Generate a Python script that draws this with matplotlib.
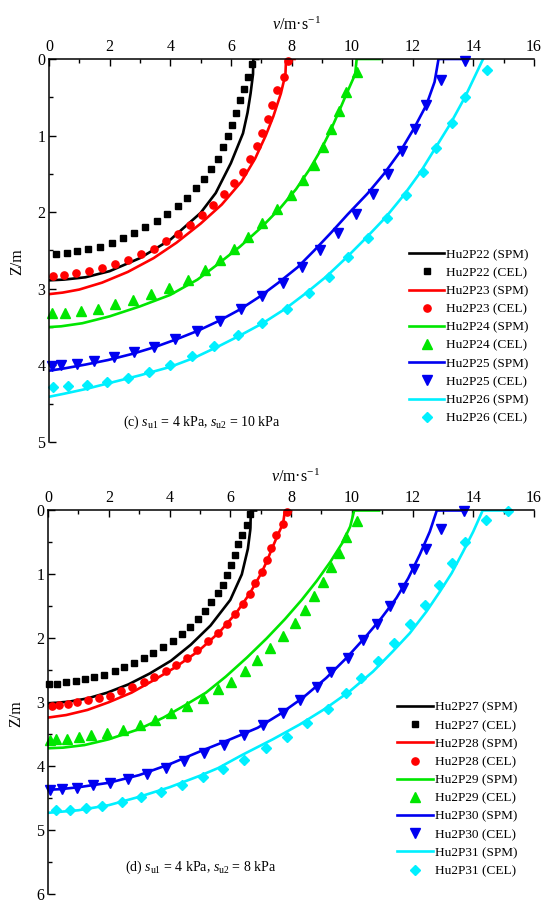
import numpy as np
import matplotlib
matplotlib.use("Agg")
import matplotlib.pyplot as plt

plt.rcParams['font.family'] = ['Liberation Serif', 'DejaVu Serif']
plt.rcParams['mathtext.fontset'] = 'custom'
plt.rcParams['mathtext.rm'] = 'Liberation Serif'
plt.rcParams['mathtext.it'] = 'Liberation Serif:italic'

# ---- panel (c): su1 = 4 kPa, su2 = 10 kPa ----
c22_spm_v = [6.90, 6.74, 6.73, 6.65, 6.55, 6.40, 6.00, 5.50, 5.00, 4.00, 3.00, 2.00, 1.20, 0.50, 0.00]
c22_spm_z = [0.00, 0.00, 0.20, 0.45, 0.70, 0.97, 1.36, 1.75, 2.01, 2.36, 2.60, 2.77, 2.85, 2.88, 2.89]
c22_cel_v = [6.70, 6.56, 6.42, 6.30, 6.18, 6.05, 5.91, 5.74, 5.57, 5.35, 5.10, 4.84, 4.55, 4.24, 3.90,
             3.56, 3.18, 2.81, 2.44, 2.07, 1.67, 1.30, 0.94, 0.60, 0.23]
c22_cel_z = [0.06, 0.23, 0.39, 0.54, 0.70, 0.86, 1.01, 1.15, 1.30, 1.43, 1.57, 1.69, 1.81, 1.92, 2.02,
             2.11, 2.20, 2.27, 2.34, 2.40, 2.45, 2.48, 2.51, 2.53, 2.55]

c23_spm_v = [8.10, 7.82, 7.80, 7.65, 7.40, 7.15, 6.80, 6.35, 5.70, 5.00, 4.20, 3.45, 2.60, 1.75, 1.00, 0.45, 0.00]
c23_spm_z = [0.00, 0.00, 0.20, 0.45, 0.75, 1.00, 1.30, 1.60, 1.90, 2.15, 2.40, 2.60, 2.78, 2.92, 3.01, 3.05, 3.07]
c23_cel_v = [7.88, 7.74, 7.53, 7.37, 7.22, 7.04, 6.85, 6.63, 6.39, 6.10, 5.77, 5.42, 5.05, 4.65, 4.25,
             3.85, 3.45, 3.04, 2.61, 2.17, 1.74, 1.32, 0.89, 0.51, 0.14]
c23_cel_z = [0.03, 0.23, 0.41, 0.60, 0.78, 0.97, 1.14, 1.31, 1.47, 1.62, 1.76, 1.91, 2.04, 2.17, 2.28,
             2.38, 2.48, 2.55, 2.62, 2.68, 2.73, 2.77, 2.80, 2.82, 2.83]

c24_spm_v = [10.92, 10.15, 10.10, 9.82, 9.55, 9.27, 8.95, 8.58, 8.15, 7.62, 7.00, 6.30, 5.50, 4.90, 4.00,
             3.00, 2.00, 1.10, 0.40, 0.00]
c24_spm_z = [0.00, 0.00, 0.20, 0.45, 0.70, 0.95, 1.20, 1.45, 1.70, 1.95, 2.20, 2.45, 2.70, 2.88, 3.08,
             3.23, 3.36, 3.45, 3.49, 3.50]
c24_cel_v = [10.15, 9.81, 9.56, 9.30, 9.03, 8.74, 8.38, 7.97, 7.51, 7.04, 6.56, 6.10, 5.64, 5.15, 4.59,
             3.95, 3.37, 2.76, 2.17, 1.60, 1.04, 0.52, 0.10]
c24_cel_z = [0.17, 0.43, 0.68, 0.92, 1.15, 1.38, 1.58, 1.77, 1.96, 2.14, 2.32, 2.48, 2.63, 2.76, 2.89,
             2.99, 3.07, 3.15, 3.20, 3.26, 3.29, 3.31, 3.32]

c25_spm_v = [13.75, 12.85, 12.72, 12.45, 12.05, 11.60, 11.05, 10.50, 9.85, 9.30, 8.75, 8.20, 7.57, 6.96,
             6.30, 5.60, 4.90, 4.20, 3.50, 2.75, 1.95, 1.20, 0.50, 0.00]
c25_spm_z = [0.00, 0.00, 0.30, 0.60, 0.90, 1.20, 1.50, 1.76, 2.03, 2.27, 2.50, 2.72, 2.92, 3.10,
             3.27, 3.42, 3.55, 3.66, 3.76, 3.85, 3.93, 3.99, 4.04, 4.07]
c25_cel_v = [13.71, 12.93, 12.44, 12.06, 11.65, 11.18, 10.68, 10.14, 9.52, 8.94, 8.36, 7.71, 7.04, 6.35,
             5.63, 4.89, 4.16, 3.45, 2.81, 2.14, 1.50, 0.92, 0.39, 0.10]
c25_cel_z = [0.02, 0.28, 0.60, 0.91, 1.20, 1.50, 1.76, 2.03, 2.27, 2.50, 2.72, 2.92, 3.10, 3.27,
             3.42, 3.55, 3.66, 3.76, 3.83, 3.89, 3.94, 3.98, 3.99, 4.01]

c26_spm_v = [14.32, 14.08, 13.72, 13.25, 12.75, 12.25, 11.70, 11.10, 10.45, 9.82, 9.15, 8.50, 7.80, 7.05,
             6.30, 5.60, 4.80, 4.00, 3.00, 2.00, 1.20, 0.50, 0.00]
c26_spm_z = [0.00, 0.20, 0.50, 0.84, 1.16, 1.48, 1.78, 2.07, 2.34, 2.59, 2.84, 3.05, 3.26, 3.45,
             3.61, 3.75, 3.90, 4.02, 4.13, 4.23, 4.31, 4.37, 4.41]
c26_cel_v = [14.45, 13.74, 13.28, 12.78, 12.33, 11.77, 11.15, 10.51, 9.88, 9.23, 8.59, 7.84, 7.04, 6.24,
             5.45, 4.73, 4.00, 3.29, 2.60, 1.91, 1.24, 0.64, 0.12]
c26_cel_z = [0.15, 0.50, 0.84, 1.16, 1.48, 1.78, 2.07, 2.34, 2.59, 2.84, 3.05, 3.26, 3.45, 3.61,
             3.75, 3.88, 3.99, 4.09, 4.16, 4.22, 4.25, 4.27, 4.28]

# ---- panel (d): su1 = 4 kPa, su2 = 8 kPa ----
d27_spm_v = [6.85, 6.68, 6.66, 6.58, 6.38, 6.00, 5.35, 4.70, 4.05, 3.35, 2.65, 1.95, 1.30, 0.70, 0.00]
d27_spm_z = [0.00, 0.00, 0.30, 0.60, 1.00, 1.40, 1.80, 2.10, 2.35, 2.55, 2.72, 2.85, 2.94, 2.99, 3.02]
d27_cel_v = [6.64, 6.55, 6.39, 6.27, 6.16, 6.04, 5.90, 5.76, 5.58, 5.37, 5.17, 4.94, 4.68, 4.40, 4.10,
             3.78, 3.47, 3.15, 2.84, 2.51, 2.19, 1.85, 1.53, 1.22, 0.91, 0.60, 0.28, 0.02]
d27_cel_z = [0.05, 0.22, 0.38, 0.53, 0.70, 0.86, 1.01, 1.16, 1.29, 1.43, 1.58, 1.70, 1.82, 1.93, 2.04,
             2.14, 2.23, 2.31, 2.39, 2.45, 2.51, 2.57, 2.61, 2.64, 2.67, 2.69, 2.71, 2.71]

d28_spm_v = [8.00, 7.80, 7.74, 7.55, 7.37, 7.20, 7.00, 6.64, 6.20, 5.65, 4.95, 4.20, 3.50, 2.75, 2.00,
             1.30, 0.60, 0.00]
d28_spm_z = [0.00, 0.00, 0.20, 0.40, 0.60, 0.80, 1.00, 1.30, 1.60, 1.90, 2.20, 2.45, 2.65, 2.85, 3.00,
             3.12, 3.20, 3.24]
d28_cel_v = [7.86, 7.72, 7.50, 7.35, 7.20, 7.03, 6.83, 6.64, 6.41, 6.16, 5.90, 5.58, 5.27, 4.92, 4.58,
             4.22, 3.87, 3.50, 3.15, 2.78, 2.41, 2.04, 1.69, 1.32, 0.97, 0.67, 0.37, 0.12]
d28_cel_z = [0.02, 0.21, 0.39, 0.59, 0.77, 0.97, 1.13, 1.30, 1.46, 1.62, 1.77, 1.92, 2.04, 2.18, 2.30,
             2.41, 2.51, 2.60, 2.69, 2.76, 2.83, 2.90, 2.94, 2.97, 3.00, 3.03, 3.04, 3.06]

d29_spm_v = [10.90, 10.08, 9.95, 9.70, 9.30, 8.85, 8.35, 7.80, 7.20, 6.55, 5.85, 5.20, 4.50, 3.80, 3.00,
             2.00, 1.20, 0.50, 0.00]
d29_spm_z = [0.00, 0.00, 0.25, 0.50, 0.80, 1.10, 1.40, 1.70, 2.00, 2.30, 2.60, 2.85, 3.05, 3.24, 3.42,
             3.58, 3.67, 3.71, 3.72]
d29_cel_v = [10.16, 9.80, 9.57, 9.31, 9.05, 8.76, 8.47, 8.13, 7.75, 7.31, 6.89, 6.47, 6.04, 5.58, 5.09,
             4.56, 4.05, 3.53, 3.03, 2.48, 1.93, 1.41, 1.01, 0.63, 0.25, 0.06]
d29_cel_z = [0.16, 0.42, 0.66, 0.89, 1.12, 1.34, 1.55, 1.76, 1.97, 2.15, 2.34, 2.51, 2.68, 2.80, 2.94,
             3.06, 3.17, 3.27, 3.36, 3.43, 3.48, 3.52, 3.55, 3.57, 3.58, 3.59]

d30_spm_v = [13.68, 12.80, 12.57, 12.24, 11.86, 11.47, 10.98, 10.43, 9.82, 9.16, 8.39, 7.62, 6.90, 6.00,
             5.00, 4.00, 3.00, 2.00, 1.00, 0.40, 0.00]
d30_spm_z = [0.00, 0.00, 0.33, 0.69, 1.06, 1.37, 1.68, 1.99, 2.31, 2.62, 2.93, 3.19, 3.40, 3.58,
             3.77, 3.97, 4.14, 4.26, 4.33, 4.36, 4.37]
d30_cel_v = [13.70, 12.93, 12.43, 12.06, 11.69, 11.27, 10.84, 10.38, 9.86, 9.31, 8.85, 8.30, 7.75, 7.08,
             6.44, 5.79, 5.14, 4.49, 3.87, 3.26, 2.63, 2.05, 1.47, 0.95, 0.46, 0.06]
d30_cel_z = [0.01, 0.29, 0.60, 0.91, 1.21, 1.50, 1.77, 2.03, 2.30, 2.53, 2.76, 2.97, 3.17, 3.35,
             3.52, 3.67, 3.80, 3.92, 4.03, 4.12, 4.20, 4.26, 4.30, 4.34, 4.36, 4.37]

d31_spm_v = [15.24, 14.31, 14.00, 13.67, 13.29, 12.90, 12.46, 11.91, 11.36, 10.70, 9.93, 9.16, 8.28, 7.40,
             6.41, 5.60, 5.00, 4.00, 3.00, 2.00, 1.00, 0.00]
d31_spm_z = [0.00, 0.00, 0.33, 0.64, 0.98, 1.27, 1.58, 1.92, 2.20, 2.52, 2.83, 3.09, 3.35, 3.58,
             3.82, 4.03, 4.15, 4.33, 4.48, 4.61, 4.69, 4.73]
d31_cel_v = [15.16, 14.43, 13.74, 13.30, 12.87, 12.41, 11.91, 11.40, 10.85, 10.30, 9.80, 9.21, 8.53, 7.87,
             7.18, 6.45, 5.76, 5.09, 4.40, 3.73, 3.07, 2.43, 1.78, 1.24, 0.72, 0.25]
d31_cel_z = [0.01, 0.15, 0.50, 0.82, 1.16, 1.48, 1.78, 2.07, 2.35, 2.62, 2.86, 3.10, 3.33, 3.54,
             3.72, 3.90, 4.05, 4.17, 4.29, 4.40, 4.49, 4.56, 4.63, 4.66, 4.68, 4.69]

colors = ['#000000', '#ff0000', '#00e600', '#0000f0', '#00f0ff']
markers = ['s', 'o', '^', 'v', 'D']
msizes = [4.6, 5.2, 6.8, 6.8, 5.6]

panel_c = [
    ('Hu2P22', c22_spm_v, c22_spm_z, c22_cel_v, c22_cel_z),
    ('Hu2P23', c23_spm_v, c23_spm_z, c23_cel_v, c23_cel_z),
    ('Hu2P24', c24_spm_v, c24_spm_z, c24_cel_v, c24_cel_z),
    ('Hu2P25', c25_spm_v, c25_spm_z, c25_cel_v, c25_cel_z),
    ('Hu2P26', c26_spm_v, c26_spm_z, c26_cel_v, c26_cel_z),
]
panel_d = [
    ('Hu2P27', d27_spm_v, d27_spm_z, d27_cel_v, d27_cel_z),
    ('Hu2P28', d28_spm_v, d28_spm_z, d28_cel_v, d28_cel_z),
    ('Hu2P29', d29_spm_v, d29_spm_z, d29_cel_v, d29_cel_z),
    ('Hu2P30', d30_spm_v, d30_spm_z, d30_cel_v, d30_cel_z),
    ('Hu2P31', d31_spm_v, d31_spm_z, d31_cel_v, d31_cel_z),
]


def drawPanel(ax, series, zmax, caption, capPos, legPos):
    for i, (name, sv, sz, cv, cz) in enumerate(series):
        ax.plot(sv, sz, '-', color=colors[i], lw=1.9, label=name + ' (SPM)')
        ax.plot(cv, cz, linestyle='none', marker=markers[i], ms=msizes[i],
                color=colors[i], mec=colors[i], clip_on=False, label=name + ' (CEL)')
    ax.set_xlim(0, 16)
    ax.set_ylim(zmax, 0)
    ax.set_xticks(np.arange(0, 17, 2))
    ax.set_xticks(np.arange(1, 16, 2), minor=True)
    ax.set_yticks(np.arange(0, zmax + 1, 1))
    ax.set_yticks(np.arange(0.5, zmax, 1), minor=True)
    ax.spines['right'].set_visible(False)
    ax.spines['bottom'].set_visible(False)
    ax.spines['left'].set_linewidth(1.1)
    ax.spines['top'].set_linewidth(1.1)
    ax.tick_params(which='both', direction='in', top=True, bottom=False, right=False,
                   labeltop=True, labelbottom=False, width=1.0, labelsize=11.5)
    ax.tick_params(which='major', length=5)
    ax.tick_params(which='minor', length=3)
    ax.tick_params(axis='x', pad=3)
    ax.tick_params(axis='y', pad=2.5)
    ax.xaxis.set_label_position('top')
    ax.set_xlabel(r'$v$/m·s$^{-1}$', fontsize=11.5)
    ax.xaxis.set_label_coords(0.51, 1.075)
    ax.set_ylabel('Z/m', fontsize=11.5)
    ax.yaxis.set_label_coords(-0.048, 0.47)
    ax.text(capPos[0], capPos[1], caption, fontsize=10, va='center', ha='left')
    ax.legend(loc='upper left', bbox_to_anchor=legPos, frameon=False, fontsize=9.5,
              handlelength=2.7, handletextpad=0.15, labelspacing=0.45, borderpad=0,
              borderaxespad=0)


fig = plt.figure(figsize=(5.5, 9.09), dpi=100)
ax1 = fig.add_axes([0.0891, 0.5138, 0.8818, 0.4213])
ax2 = fig.add_axes([0.0873, 0.0165, 0.8836, 0.4219])

drawPanel(ax1, panel_c, 5, r'(c) $s_{\mathrm{u1}}$ = 4 kPa, $s_{\mathrm{u2}}$ = 10 kPa',
          (2.44, 4.74), (0.742, 0.505))
drawPanel(ax2, panel_d, 6, r'(d) $s_{\mathrm{u1}}$ = 4 kPa, $s_{\mathrm{u2}}$ = 8 kPa',
          (2.53, 5.58), (0.718, 0.502))

plt.savefig('out.png', dpi=100)
